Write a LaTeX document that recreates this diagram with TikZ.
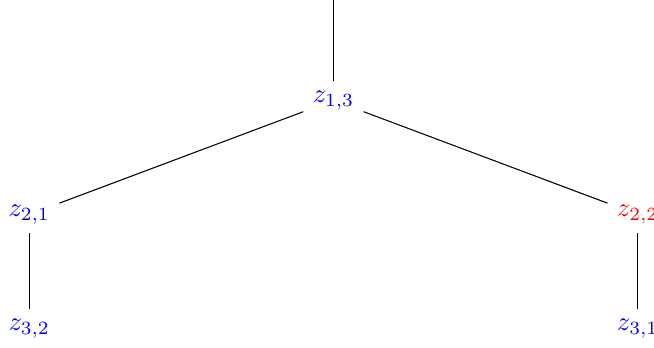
\documentclass[tikz,border=0pt]{standalone}
\usepackage{tikz}

\begin{document}
\begin{tikzpicture}[
        var/.style={text=blue},
        hot/.style={text=red},
        link/.style={black}
    ]
        \useasboundingbox (-4.385,1.32) rectangle (4.215,-3.25);
        \coordinate (top) at (0,1.32);
        \node[var] (z13) at (0,0) {$z_{1,3}$};
        \node[var] (z21) at (-4,-1.5) {$z_{2,1}$};
        \node[hot] (z22) at (4,-1.5) {$z_{2,2}$};
        \node[var] (z32) at (-4,-3) {$z_{3,2}$};
        \node[var] (z31) at (4,-3) {$z_{3,1}$};

        \draw[link] (top) -- (z13);
        \draw[link] (z13) -- (z21);
        \draw[link] (z13) -- (z22);
        \draw[link] (z21) -- (z32);
        \draw[link] (z22) -- (z31);
    \end{tikzpicture}
\end{document}
